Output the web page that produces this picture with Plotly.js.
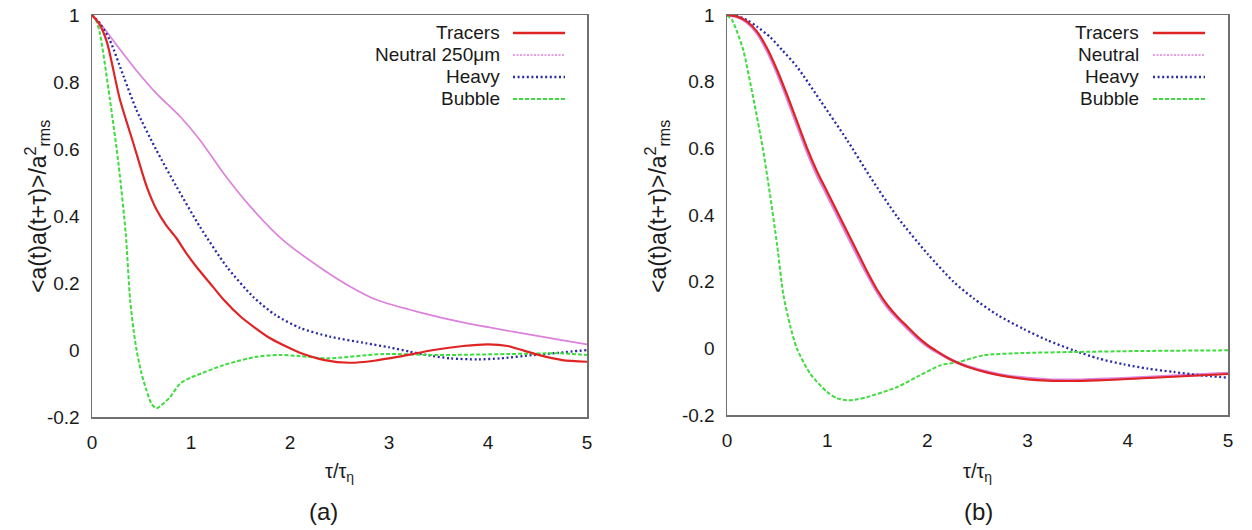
<!DOCTYPE html>
<html>
<head>
<meta charset="utf-8">
<script src="https://cdn.plot.ly/plotly-3.0.1.min.js"></script>
<style>html,body{margin:0;padding:0;background:#fff;}#chart{width:1252px;height:530px;}</style>
</head>
<body>
<div id="chart"></div>
<script>
// ---------- Panel (a) data ----------
const aTracersX = [0,0.07,0.15,0.28,0.42,0.55,0.65,0.75,0.85,0.95,1.05,1.19,1.33,1.5,1.63,1.8,2.0,2.1,2.35,2.6,2.85,3.1,3.45,3.75,4.0,4.2,4.5,4.75,5];
const aTracersY = [1,0.975,0.92,0.75,0.615,0.49,0.42,0.372,0.335,0.29,0.25,0.2,0.15,0.1,0.07,0.035,0.005,-0.008,-0.03,-0.038,-0.032,-0.02,0.0,0.012,0.017,0.012,-0.014,-0.03,-0.035];
const aNeutralX = [0,0.11,0.25,0.42,0.65,0.89,1.09,1.33,1.6,1.93,2.34,2.61,2.88,3.3,3.78,4.25,4.73,5];
const aNeutralY = [1,0.965,0.91,0.845,0.766,0.697,0.627,0.527,0.428,0.328,0.239,0.189,0.149,0.113,0.08,0.055,0.03,0.017];
const aHeavyX = [0,0.08,0.18,0.32,0.45,0.65,0.855,1.09,1.36,1.63,1.85,2.1,2.4,2.77,3.0,3.21,3.4,3.62,3.9,4.12,4.46,4.73,5];
const aHeavyY = [1,0.975,0.925,0.816,0.716,0.597,0.487,0.368,0.249,0.158,0.105,0.066,0.04,0.02,0.008,-0.005,-0.016,-0.025,-0.028,-0.025,-0.015,-0.008,0.0];
const aBubbleX = [0,0.04,0.08,0.18,0.27,0.34,0.385,0.42,0.45,0.5,0.55,0.6,0.65,0.7,0.79,0.89,1.0,1.06,1.33,1.66,1.9,2.1,2.37,2.94,3.5,4.2,4.73,5];
const aBubbleY = [1,0.985,0.945,0.75,0.55,0.35,0.15,0.06,0.0,-0.07,-0.12,-0.16,-0.174,-0.165,-0.14,-0.1,-0.082,-0.075,-0.045,-0.02,-0.015,-0.018,-0.025,-0.012,-0.015,-0.012,-0.01,-0.015];

// ---------- Panel (b) data ----------
const bTracersX = [0,0.1,0.2,0.3,0.4,0.5,0.6,0.7,0.8,0.9,1.0,1.1,1.2,1.3,1.4,1.5,1.6,1.7,1.8,1.9,2.0,2.1,2.2,2.3,2.4,2.6,2.8,3.0,3.2,3.4,3.6,3.8,4.0,4.2,4.4,4.6,4.8,5.0];
const bTracersY = [1,0.995,0.98,0.95,0.9,0.835,0.76,0.68,0.6,0.53,0.47,0.41,0.35,0.29,0.23,0.175,0.13,0.095,0.065,0.035,0.01,-0.01,-0.028,-0.043,-0.055,-0.073,-0.085,-0.093,-0.097,-0.098,-0.097,-0.095,-0.092,-0.089,-0.086,-0.083,-0.08,-0.077];
const bNeutralX = [0,0.1,0.2,0.3,0.4,0.5,0.6,0.7,0.8,0.9,1.0,1.1,1.2,1.3,1.4,1.5,1.6,1.7,1.8,1.9,2.0,2.1,2.2,2.3,2.4,2.6,2.8,3.0,3.2,3.4,3.6,3.8,4.0,4.2,4.4,4.6,4.8,5.0];
const bNeutralY = [1,0.995,0.978,0.946,0.893,0.826,0.75,0.67,0.59,0.52,0.46,0.4,0.34,0.28,0.222,0.168,0.124,0.09,0.06,0.031,0.007,-0.012,-0.029,-0.043,-0.054,-0.071,-0.083,-0.09,-0.094,-0.095,-0.094,-0.092,-0.09,-0.087,-0.084,-0.081,-0.078,-0.075];
const bHeavyX = [0,0.1,0.2,0.3,0.43,0.55,0.7,0.93,1.2,1.43,1.7,2.0,2.26,2.46,2.7,2.96,3.2,3.46,3.7,3.96,4.2,4.46,4.7,5];
const bHeavyY = [1,0.997,0.985,0.965,0.934,0.895,0.844,0.744,0.624,0.514,0.394,0.284,0.2,0.15,0.1,0.058,0.024,-0.006,-0.03,-0.048,-0.061,-0.071,-0.08,-0.088];
const bBubbleX = [0,0.05,0.1,0.163,0.263,0.36,0.43,0.5,0.563,0.63,0.697,0.83,1.0,1.1,1.2,1.3,1.4,1.7,1.9,2.13,2.31,2.56,2.96,3.46,4.13,5];
const bBubbleY = [1,0.985,0.95,0.894,0.75,0.595,0.46,0.31,0.16,0.068,0.0,-0.076,-0.131,-0.15,-0.156,-0.153,-0.146,-0.116,-0.085,-0.051,-0.041,-0.021,-0.014,-0.011,-0.008,-0.006];

// ---------- labels ----------
const seriesNamesA = ['Tracers','Neutral 250\u03bcm','Heavy','Bubble'];
const seriesNamesB = ['Tracers','Neutral','Heavy','Bubble'];
const xTickVals = [0,1,2,3,4,5];
const xTickText = ['0','1','2','3','4','5'];
const yTickVals = [-0.2,0,0.2,0.4,0.6,0.8,1];
const yTickText = ['-0.2','0','0.2','0.4','0.6','0.8','1'];
const panelLabels = ['(a)','(b)'];
const xTitle = '\u03c4/\u03c4<sub>\u03b7</sub>';
const yTitle = '&lt;a(t)a(t+\u03c4)&gt;/a<sup>2</sup><sub>rms</sub>';

// ---------- styles ----------
const W = 1252, H = 530;
const FONT = 'Liberation Sans, Arial, sans-serif';
const FRAME = '#707070';
const styles = [
  {color:'#e02424', width:2.2, dash:'solid'},
  {color:'#dc82dc', width:1.7, dash:'solid'},
  {color:'#2a2aa6', width:2.3, dash:'2px,2.6px'},
  {color:'#3edc3e', width:2.0, dash:'4px,2px'}
];
const legendDash = ['solid','2px,1.5px','2px,2.6px','4px,2px'];
const legendWidth = [2.4,1.5,2.3,2.0];

function px(x){return x/W;}
function py(y){return (H-y)/H;}

function tr(x,y,s,xa,ya){
  return {x:x,y:y,type:'scatter',mode:'lines',xaxis:xa,yaxis:ya,showlegend:false,hoverinfo:'skip',
    line:{color:s.color,width:s.width,dash:s.dash,shape:'spline',smoothing:0.7}};
}

const data = [
  tr(aNeutralX,aNeutralY,styles[1],'x','y'),
  tr(aHeavyX,aHeavyY,styles[2],'x','y'),
  tr(aBubbleX,aBubbleY,styles[3],'x','y'),
  tr(aTracersX,aTracersY,styles[0],'x','y'),
  Object.assign(tr(bNeutralX,bNeutralY,styles[1],'x2','y2'),{line:{color:styles[1].color,width:3,shape:'spline',smoothing:0.7}}),
  tr(bHeavyX,bHeavyY,styles[2],'x2','y2'),
  tr(bBubbleX,bBubbleY,styles[3],'x2','y2'),
  tr(bTracersX,bTracersY,styles[0],'x2','y2')
];

// label-bearing axes: invisible outside ticks push the labels away from the frame
function xLab(dom,anchor){
  return {domain:dom, anchor:anchor, range:[0,5], showgrid:false, zeroline:false, showline:true, mirror:true,
    linecolor:FRAME, linewidth:1.5, ticks:'outside', ticklen:8, tickcolor:'rgba(0,0,0,0)',
    tickvals:xTickVals, ticktext:xTickText, tickfont:{family:FONT,size:19,color:'#1a1a1a'}, fixedrange:true};
}
function yLab(dom,anchor){
  return {domain:dom, anchor:anchor, range:[-0.2,1], showgrid:false, zeroline:false, showline:true, mirror:true,
    linecolor:FRAME, linewidth:1.5, ticks:'outside', ticklen:7, tickcolor:'rgba(0,0,0,0)',
    tickvals:yTickVals, ticktext:yTickText, tickfont:{family:FONT,size:19,color:'#1a1a1a'}, fixedrange:true};
}
// overlay axes carrying the inward, mirrored tick marks
function xTk(dom,anchor,over){
  return {domain:dom, anchor:anchor, overlaying:over, range:[0,5], showgrid:false, zeroline:false, showline:true, mirror:'ticks',
    linecolor:FRAME, linewidth:1.5, ticks:'inside', ticklen:6, tickcolor:FRAME, tickwidth:1.3,
    tickvals:xTickVals, showticklabels:false, fixedrange:true};
}
function yTk(dom,anchor,over){
  return {domain:dom, anchor:anchor, overlaying:over, range:[-0.2,1], showgrid:false, zeroline:false, showline:true, mirror:'ticks',
    linecolor:FRAME, linewidth:1.5, ticks:'inside', ticklen:6, tickcolor:FRAME, tickwidth:1.3,
    tickvals:yTickVals, showticklabels:false, fixedrange:true};
}

const annotations = [];
const shapes = [];
const panels = [
  {names:seriesNamesA, textRight:502, lineX0:513, lineX1:565, cx:339, yTitleX:37, label:panelLabels[0], labelX:324},
  {names:seriesNamesB, textRight:1141, lineX0:1153, lineX1:1205, cx:977, yTitleX:657, label:panelLabels[1], labelX:978}
];
const rowY = [33,55,77,99];
panels.forEach(p=>{
  p.names.forEach((n,i)=>{
    annotations.push({xref:'paper',yref:'paper',x:px(p.textRight),y:py(rowY[i]),xanchor:'right',yanchor:'middle',
      text:n,showarrow:false,font:{family:FONT,size:19,color:'#1a1a1a'}});
    shapes.push({type:'line',xref:'paper',yref:'paper',x0:px(p.lineX0),x1:px(p.lineX1),y0:py(rowY[i]),y1:py(rowY[i]),
      line:{color:styles[i].color,width:legendWidth[i],dash:legendDash[i]}});
  });
  annotations.push({xref:'paper',yref:'paper',x:px(p.cx),y:py(472),xanchor:'center',yanchor:'middle',
    text:xTitle,showarrow:false,font:{family:FONT,size:20,color:'#1a1a1a'}});
  annotations.push({xref:'paper',yref:'paper',x:px(p.yTitleX),y:py(207),xanchor:'center',yanchor:'middle',textangle:-90,
    text:yTitle,showarrow:false,font:{family:FONT,size:23,color:'#1a1a1a'}});
  annotations.push({xref:'paper',yref:'paper',x:px(p.labelX),y:py(511),xanchor:'center',yanchor:'middle',
    text:p.label,showarrow:false,font:{family:FONT,size:24,color:'#1a1a1a'}});
});

const domA = [92/W,587/W], domB = [727/W,1228/W];
const domYA = [py(417),py(15)], domYB = [py(415),py(15)];
const layout = {
  width:W, height:H, margin:{l:0,r:0,t:0,b:0}, paper_bgcolor:'#fff', plot_bgcolor:'#fff', showlegend:false,
  xaxis: xLab(domA,'y'),
  yaxis: yLab(domYA,'x'),
  xaxis2: xLab(domB,'y2'),
  yaxis2: yLab(domYB,'x2'),
  xaxis3: xTk(domA,'y3','x'),
  yaxis3: yTk(domYA,'x3','y'),
  xaxis4: xTk(domB,'y4','x2'),
  yaxis4: yTk(domYB,'x4','y2'),
  annotations:annotations, shapes:shapes
};

Plotly.newPlot('chart', data, layout, {staticPlot:true, displayModeBar:false});
</script>
</body>
</html>
